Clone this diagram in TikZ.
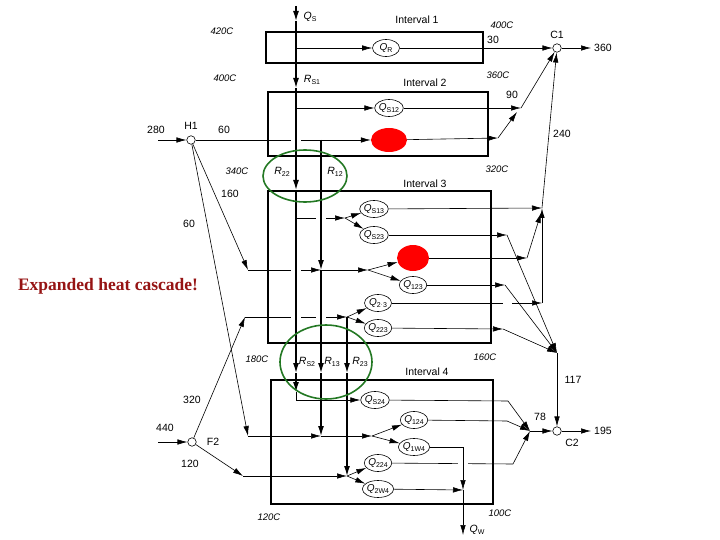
\documentclass[tikz,border=0pt]{standalone}
\usepackage{fontspec}
\setsansfont{Liberation Sans}
\newfontfamily\notefont{Liberation Serif}
\usetikzlibrary{arrows.meta,shapes.geometric}
\definecolor{ringgreen}{RGB}{35,120,35}
\definecolor{notered}{RGB}{150,20,20}
\newcommand{\qlab}[1]{\textit{Q}\raisebox{-0.4ex}{\fontsize{7}{7}\selectfont #1}}
\newcommand{\rlab}[1]{\textit{R}\raisebox{-0.4ex}{\fontsize{7}{7}\selectfont #1}}
\tikzset{
  box/.style={line width=1.6pt},
  flow/.style={line width=0.6pt,-{Latex[length=10pt,width=5.5pt]}},
  res/.style={line width=1.3pt,-{Latex[length=10pt,width=6pt]}},
  cut/.style={white,line width=4pt},
  qnode/.style={ellipse,draw,line width=0.6pt,inner sep=0pt,minimum width=27pt,minimum height=17pt,font=\sffamily\fontsize{10}{10}\selectfont},
  hot/.style={ellipse,fill=red,inner sep=0pt},
  mix/.style={circle,draw,line width=0.6pt,fill=white,inner sep=0pt,minimum size=8.5pt},
  lab/.style={font=\sffamily\fontsize{10.5}{11}\selectfont},
  temp/.style={font=\sffamily\itshape\fontsize{9.5}{10}\selectfont},
  ring/.style={ellipse,draw=ringgreen,line width=1.6pt},
}
\begin{document}
\begin{tikzpicture}[x=1pt,y=-1pt]
  \useasboundingbox (0,0) rectangle (720,540);
  %intervals
  \draw[box] (266,32) rectangle (483,63);
  \draw[box] (268,92) rectangle (488,156);
  \draw[box] (268,191) rectangle (491,343);
  \draw[box] (271,380) rectangle (493,504);
  %exchanges
  \node[qnode] (qr) at (386,48) {\qlab{R}};
  \node[qnode] (qs12) at (389,108) {\qlab{S12}};
  \node[hot,minimum width=36pt,minimum height=24pt] (h12) at (389,140) {};
  \node[qnode] (qs13) at (374,209) {\qlab{S13}};
  \node[qnode] (qs23) at (374,235) {\qlab{S23}};
  \node[hot,minimum width=32pt,minimum height=26pt] (h13) at (413,258) {};
  \node[qnode] (q123) at (413,285) {\qlab{123}};
  \node[qnode] (q213) at (378,303) {\qlab{2{\raisebox{0.3ex}{$\cdot$}}3}};
  \node[qnode] (q223) at (378,328) {\qlab{223}};
  \node[qnode] (qs24) at (375,400) {\qlab{S24}};
  \node[qnode] (q124) at (414,420) {\qlab{124}};
  \node[qnode] (q1w4) at (414,447) {\qlab{1W4}};
  \node[qnode] (q224) at (378,463) {\qlab{224}};
  \node[qnode] (q2w4) at (378,489) {\qlab{2W4}};
  %streams
  \node[mix] (h1) at (191,140) {};
  \node[mix] (f2) at (192,442) {};
  \node[mix] (c1) at (557,48) {};
  \node[mix] (c2) at (557,431) {};
  \coordinate (qstop) at (296,6);
  \coordinate (rs0) at (296,21);
  \coordinate (rs1) at (296,88);
  \coordinate (rs2) at (296,190);
  \coordinate (rs3) at (296,373);
  \coordinate (rs4) at (296,392);
  \coordinate (r12) at (321,140);
  \coordinate (m3) at (321,270);
  \coordinate (r13) at (321,373);
  \coordinate (m4) at (321,436);
  \coordinate (r23) at (347,373);
  \coordinate (s3) at (345,218);
  \coordinate (s4) at (368,270);
  \coordinate (s5) at (372,436);
  \coordinate (s6) at (347,317);
  \coordinate (s7) at (347,476);
  \coordinate (in280) at (158,140);
  \coordinate (in440) at (158,442);
  \coordinate (e160) at (248,270);
  \coordinate (e60) at (248,436);
  \coordinate (e320) at (245,317);
  \coordinate (e120) at (243,476);
  \coordinate (k1) at (521,108);
  \coordinate (k2) at (498,138);
  \coordinate (k2b) at (517,112);
  \coordinate (j1) at (542,208);
  \coordinate (j1b) at (541,213);
  \coordinate (j2) at (542,303);
  \coordinate (k3) at (527,258);
  \coordinate (k4) at (507,235);
  \coordinate (k5) at (505,285);
  \coordinate (k6) at (503,329);
  \coordinate (j3) at (557,353);
  \coordinate (k7) at (530,431);
  \coordinate (b4) at (508,401);
  \coordinate (b5) at (507,421);
  \coordinate (b6) at (513,464);
  \coordinate (w1) at (463,490);
  \coordinate (qw) at (463,535);
  \coordinate (out360) at (591,48);
  \coordinate (out195) at (591,431);
  %hot side
  \draw[flow] (in280) -- (h1);
  \draw[flow] (h1) -- (h12);
  \draw[flow] (h1) -- (e160);
  \draw[flow] (h1) -- (e60);
  \draw[flow] (e160) -- (m3);
  \draw[flow] (m3) -- (s4);
  \draw[flow] (s4) -- (h13);
  \draw[flow] (s4) -- (q123);
  \draw[flow] (e60) -- (m4);
  \draw[flow] (m4) -- (s5);
  \draw[flow] (s5) -- (q124);
  \draw[flow] (s5) -- (q1w4);
  \draw[flow] (in440) -- (f2);
  \draw[flow] (f2) -- (e320);
  \draw[flow] (e320) -- (s6);
  \draw[flow] (s6) -- (q213);
  \draw[flow] (s6) -- (q223);
  \draw[flow] (f2) -- (e120);
  \draw[flow] (e120) -- (s7);
  \draw[flow] (s7) -- (q224);
  \draw[flow] (s7) -- (q2w4);
  \draw[flow] (rs0|-qr) -- (qr);
  \draw[flow] (rs1|-qs12) -- (qs12);
  \draw[flow] (rs2|-s3) -- (s3);
  \draw[flow] (s3) -- (qs13);
  \draw[flow] (s3) -- (qs23);
  \draw[flow] (rs4) |- (qs24);
  %cold side
  \draw[flow] (qr) -- (c1);
  \draw[flow] (qs12) -- (k1);
  \draw[flow] (k1) -- (c1);
  \draw[flow] (h12) -- (k2);
  \draw[flow] (k2) -- (k2b);
  \draw[flow] (c1) -- (out360);
  \draw[flow] (qs13) -- (j1);
  \draw[flow] (j1) -- (c1);
  \draw[flow] (h13) -- (k3);
  \draw[flow] (k3) -- (j1b);
  \draw[flow] (q213) -- (j2);
  \draw[flow,line width=1pt] (j2) -- (j1);
  \draw[flow] (qs23) -- (k4);
  \draw[flow] (k4) -- (j3);
  \draw[flow] (q123) -- (k5);
  \draw[flow] (k5) -- (j3);
  \draw[flow] (q223) -- (k6);
  \draw[flow] (k6) -- (j3);
  \draw[flow] (j3) -- (c2);
  \draw[flow] (k7) -- (c2);
  \draw[flow] (c2) -- (out195);
  \draw[flow] (qs24) -- (b4) -- (k7);
  \draw[flow] (q124) -- (b5) -- (k7);
  \draw[flow] (q224) -- (b6) -- (k7);
  %crossings
  \draw[cut] (291,140) -- (301,140);
  \draw[cut] (316,218) -- (326,218);
  \draw[cut] (291,270) -- (301,270);
  \draw[cut] (291,317) -- (301,317);
  \draw[cut] (316,317) -- (326,317);
  \draw[cut] (503,303) -- (512,303);
  \draw[cut] (458,464) -- (468,464);
  %residuals
  \draw[res] (qstop) -- (rs0);
  \draw[res] (rs0) -- (rs1);
  \draw[res] (rs1) -- (rs2);
  \draw[res] (rs2) -- (rs3);
  \draw[res] (rs3) -- (rs4);
  \draw[res] (r12) -- (m3);
  \draw[res] (m3) -- (r13);
  \draw[res] (r13) -- (m4);
  \draw[res] (s6) -- (r23);
  \draw[res] (r23) -- (s7);
  \draw[flow] (q1w4) -| (w1);
  \draw[flow] (q2w4) -- (w1);
  \draw[flow] (w1) -- (qw);
  %labels
  \node[lab] (n1) at (417,20) {Interval 1};
  \node[lab] (n2) at (425,83) {Interval 2};
  \node[lab] (n3) at (425,184) {Interval 3};
  \node[lab] (n4) at (427,372) {Interval 4};
  \node[temp] (t420) at (222,31) {420C};
  \node[temp] (t400a) at (225,78) {400C};
  \node[temp] (t400b) at (502,25) {400C};
  \node[temp] (t360) at (498,75) {360C};
  \node[temp] (t340) at (237,171) {340C};
  \node[temp] (t320) at (497,169) {320C};
  \node[temp] (t180) at (257,359) {180C};
  \node[temp] (t160) at (485,357) {160C};
  \node[temp] (t120) at (269,517) {120C};
  \node[temp] (t100) at (500,513) {100C};
  \node[lab] (v280) at (156,130) {280};
  \node[lab] (v60a) at (224,130) {60};
  \node[lab] (v160) at (230,194) {160};
  \node[lab] (v60b) at (189,224) {60};
  \node[lab] (v320) at (192,400) {320};
  \node[lab] (v440) at (165,428) {440};
  \node[lab] (v120) at (190,464) {120};
  \node[lab] (v30) at (493,40) {30};
  \node[lab] (v360) at (603,48) {360};
  \node[lab] (v90) at (512,95) {90};
  \node[lab] (v240) at (562,134) {240};
  \node[lab] (v117) at (573,380) {117};
  \node[lab] (v78) at (540,417) {78};
  \node[lab] (v195) at (603,431) {195};
  \node[lab] (nh1) at (191,126) {H1};
  \node[lab] (nf2) at (213,442) {F2};
  \node[lab] (nc1) at (557,35) {C1};
  \node[lab] (nc2) at (572,443) {C2};
  \node[lab] (nqs) at (310,17) {\qlab{S}};
  \node[lab] (nrs1) at (312,80) {\rlab{S1}};
  \node[lab] (nr22) at (282,172) {\rlab{22}};
  \node[lab] (nr12) at (335,172) {\rlab{12}};
  \node[lab] (nrs2) at (307,362) {\rlab{S2}};
  \node[lab] (nr13) at (332,362) {\rlab{13}};
  \node[lab] (nr23) at (360,362) {\rlab{23}};
  \node[lab] (nqw) at (477,530) {\qlab{W}};
  %highlight
  \node[ring,minimum width=84pt,minimum height=52pt] (ringa) at (305,176) {};
  \node[ring,minimum width=92pt,minimum height=74pt] (ringb) at (326,362) {};
  \node[font=\notefont\bfseries\fontsize{17.5}{19}\selectfont,text=notered] (note) at (108,286) {Expanded heat cascade!};
\end{tikzpicture}
\end{document}
